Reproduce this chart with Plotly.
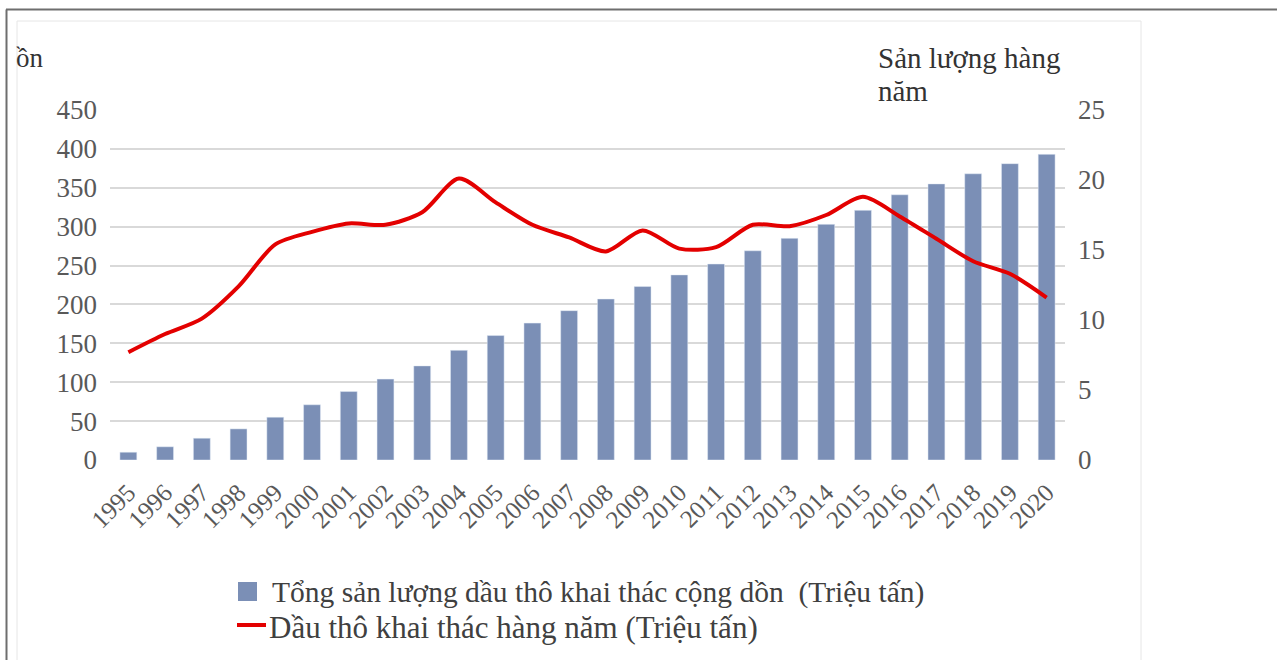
import plotly.graph_objects as go

years = [str(y) for y in range(1995, 2021)]
cumulative = [10, 17, 28, 40, 55, 71, 88, 104, 121, 141, 160, 176, 192, 207, 223,
              238, 252, 269, 285, 303, 321, 341, 355, 368, 381, 393]
annual = [7.7, 9.0, 10.1, 12.4, 15.4, 16.3, 16.9, 16.8, 17.7, 20.1, 18.4, 16.8, 15.9,
          14.9, 16.4, 15.1, 15.2, 16.8, 16.7, 17.5, 18.8, 17.4, 15.8, 14.2, 13.3, 11.6]

bar_name = "Tổng sản lượng dầu thô khai thác cộng dồn  (Triệu tấn)"
line_name = "Dầu thô khai thác hàng năm (Triệu tấn)"

BAR_COLOR = "#7b8fb6"
LINE_COLOR = "#e30000"

W, H = 1277, 660
L, R, T, B = 110, 1065, 110, 460


def px(X):
    return (X - L) / (R - L)


def py(Y):
    return (B - Y) / (B - T)


SERIF = "Liberation Serif, Times New Roman, serif"
TICK = "#595959"
TEXT = "#333333"

fig = go.Figure()
fig.add_trace(go.Bar(x=years, y=cumulative, name=bar_name, marker_color=BAR_COLOR,
                     width=0.46, yaxis="y", showlegend=False))
fig.add_trace(go.Scatter(x=years, y=annual, name=line_name, mode="lines",
                         line=dict(color=LINE_COLOR, width=4, shape="spline", smoothing=0.8),
                         yaxis="y2", showlegend=False))

shapes = [
    # chart frame
    dict(type="rect", xref="paper", yref="paper", x0=px(17), x1=px(1141), y0=py(700), y1=py(21),
         line=dict(color="#e6e6e6", width=1), fillcolor="rgba(0,0,0,0)", layer="below"),
    dict(type="line", xref="paper", yref="paper", x0=px(6.5), x1=px(6.5), y0=py(9.5), y1=py(700),
         line=dict(color="#6e6e6e", width=2)),
    dict(type="line", xref="paper", yref="paper", x0=px(6), x1=px(1300), y0=py(9.5), y1=py(9.5),
         line=dict(color="#6e6e6e", width=2)),
    # legend keys
    dict(type="rect", xref="paper", yref="paper", x0=px(238), x1=px(257), y0=py(601), y1=py(582),
         line=dict(width=0), fillcolor=BAR_COLOR),
    dict(type="line", xref="paper", yref="paper", x0=px(237), x1=px(266), y0=py(625), y1=py(625),
         line=dict(color=LINE_COLOR, width=4)),
]

annotations = [
    dict(text="ồn", xref="paper", yref="paper", x=px(14), y=py(58), xanchor="left",
         yanchor="middle", showarrow=False, font=dict(family=SERIF, size=27, color=TEXT)),
    dict(text="Sản lượng hàng", xref="paper", yref="paper", x=px(876), y=py(58),
         xanchor="left", yanchor="middle", showarrow=False,
         font=dict(family=SERIF, size=29, color=TEXT)),
    dict(text="năm", xref="paper", yref="paper", x=px(876), y=py(91),
         xanchor="left", yanchor="middle", showarrow=False,
         font=dict(family=SERIF, size=29, color=TEXT)),
    dict(text=bar_name, xref="paper", yref="paper", x=px(270), y=py(592),
         xanchor="left", yanchor="middle", showarrow=False,
         font=dict(family=SERIF, size=29.5, color="#404040")),
    dict(text=line_name, xref="paper", yref="paper", x=px(267), y=py(627),
         xanchor="left", yanchor="middle", showarrow=False,
         font=dict(family=SERIF, size=31, color="#404040")),
]

fig.update_layout(
    width=W, height=H,
    margin=dict(l=L, r=W - R, t=T, b=H - B, autoexpand=False),
    paper_bgcolor="white", plot_bgcolor="white",
    showlegend=False,
    xaxis=dict(type="category", tickangle=-45, showgrid=False, showline=False,
               tickfont=dict(family=SERIF, size=25, color=TICK), ticks="",
               ticklabelstandoff=12, automargin=False,
               range=[-0.5, len(years) - 0.5]),
    yaxis=dict(range=[0, 450], dtick=50, showgrid=True, gridcolor="#d9d9d9", gridwidth=1.5,
               zeroline=False, showline=False, ticks="", ticklabelstandoff=12, automargin=False,
               tickfont=dict(family=SERIF, size=27, color=TICK)),
    yaxis2=dict(range=[0, 25], dtick=5, overlaying="y", side="right", showgrid=False,
                zeroline=False, showline=False, ticks="", ticklabelstandoff=12, automargin=False,
                tickfont=dict(family=SERIF, size=27, color=TICK)),
    shapes=shapes,
    annotations=annotations,
)

fig.write_html("out.html", config={"displayModeBar": False},
               post_script="document.body.style.margin='0';document.body.style.overflow='hidden';")
